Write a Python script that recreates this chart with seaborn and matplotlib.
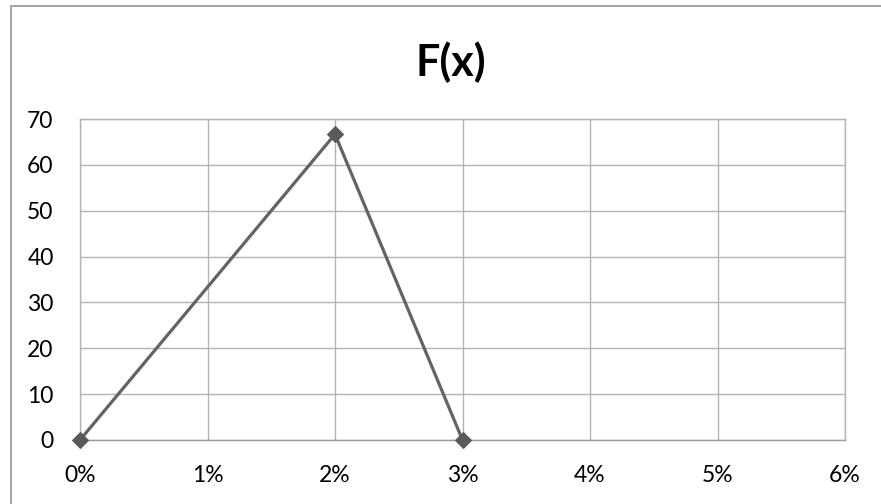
import matplotlib
matplotlib.use("Agg")
import matplotlib.pyplot as plt
import seaborn as sns
import pandas as pd
from matplotlib.patches import Rectangle
from matplotlib.ticker import FuncFormatter

# Series values
x_vals = [0.0, 0.02, 0.03]
f_vals = [0.0, 66.67, 0.0]
y_ticks = [0, 10, 20, 30, 40, 50, 60, 70]
x_ticks = [0.0, 0.01, 0.02, 0.03, 0.04, 0.05, 0.06]
title = "F(x)"

sns.set_theme(style="white")
plt.rcParams["font.family"] = ["Lato", "DejaVu Sans"]

W, H = 881, 504
fig = plt.figure(figsize=(W / 100, H / 100), dpi=100)

# Chart frame
fig.patches.append(Rectangle((11 / W, -0.1), 1.2, (H - 6) / H + 0.1,
                             transform=fig.transFigure, fill=False,
                             edgecolor="#a6a6a6", linewidth=1.5))

ax = fig.add_axes([80 / W, (H - 440) / H, (845 - 80) / W, (440 - 119) / H])

df = pd.DataFrame({"x": x_vals, "F": f_vals})
sns.lineplot(data=df, x="x", y="F", ax=ax, color="#636363", linewidth=2.3,
             marker="D", markersize=8, markerfacecolor="#5a5a5a",
             markeredgecolor="#5a5a5a", zorder=5, clip_on=False)

ax.set_xlim(0, 0.06)
ax.set_ylim(0, 70)
ax.set_xticks(x_ticks)
ax.set_yticks(y_ticks)
ax.xaxis.set_major_formatter(FuncFormatter(lambda v, p: f"{round(v * 100)}%"))
ax.grid(True, color="#b3b3b3", linewidth=1.0)
ax.set_axisbelow(True)
for s in ax.spines.values():
    s.set_color("#b3b3b3")
    s.set_linewidth(1.0)
ax.spines["bottom"].set_color("#9a9a9a")
ax.tick_params(axis="both", length=0, labelsize=16.5, colors="#000000")
ax.tick_params(axis="x", pad=18)
ax.tick_params(axis="y", pad=19)
ax.set_xlabel("")
ax.set_ylabel("")

fig.text(451 / W, (H - 62) / H, title, ha="center", va="center",
         fontsize=31, fontweight="bold", color="#000000")

fig.savefig("out.png", dpi=100)
